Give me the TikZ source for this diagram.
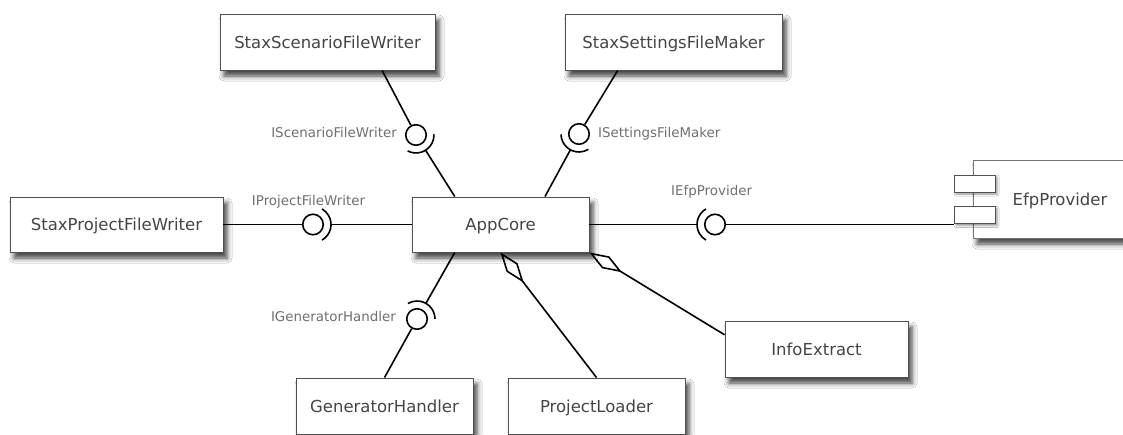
\documentclass[tikz,border=0pt]{standalone}
\usepackage{fontspec}
\setmainfont{DejaVu Sans}
\usetikzlibrary{calc,arrows.meta,shadows.blur}

\definecolor{boxline}{HTML}{505050}
\definecolor{boxtext}{HTML}{454545}
\definecolor{lbltext}{HTML}{707070}

\tikzset{
  softshadow/.style={blur shadow={shadow xshift=4pt, shadow yshift=-6pt,
      shadow blur radius=5pt, shadow opacity=75}},
  comp/.style={draw=boxline, line width=0.9pt, fill=white, text=boxtext,
      font=\fontsize{16.5}{20}\selectfont, inner sep=0pt,
      text height=12pt, text depth=0pt, minimum height=56pt, softshadow},
  port/.style={draw=boxline, line width=0.9pt, fill=white, inner sep=0pt,
      minimum width=41pt, minimum height=17pt,
      blur shadow={shadow xshift=2pt, shadow yshift=-2pt,
      shadow blur radius=2pt, shadow opacity=45}},
  ball/.style={circle, draw=black, line width=1.6pt, fill=white,
      minimum size=20.5pt, inner sep=0pt},
  conn/.style={draw=black, line width=1.6pt},
  iface/.style={text=lbltext, font=\fontsize{13.4}{16}\selectfont,
      inner sep=0pt, text height=9.8pt, text depth=0pt},
  aggr/.style={conn, {Diamond[open,length=38pt,width=14pt]}-},
}

% socket half of a lollipop: arc round ball #1, opening away from #2,
% plus the line from the arc to #2
\newcommand\ifsocket[2]{%
  \draw[conn] let \p1=($(#2)-(#1)$), \n1={atan2(\y1,\x1)} in
    ([shift={({\n1-60}:18pt)}]#1.center)
      arc[start angle=\n1-60, end angle=\n1+60, radius=18pt];
  \draw[conn] ($(#1)!18pt!(#2)$) -- (#2);}

\begin{document}
\begin{tikzpicture}[x=1pt,y=1pt]
\clip (0,0) rectangle (1123,-434);
\fill[white] (0,0) rectangle (1123,-434);

% components
\node[comp, minimum width=215pt] (ssfw) at (327.5,-42) {StaxScenarioFileWriter};
\node[comp, minimum width=217pt] (ssfm) at (673.5,-42) {StaxSettingsFileMaker};
\node[comp, minimum width=213pt, minimum height=55pt] (spfw) at (116.5,-224.5) {StaxProjectFileWriter};
\node[comp, minimum width=177pt, minimum height=55pt] (app) at (500.5,-224.5) {AppCore};
\node[comp, minimum width=174pt, minimum height=78pt, draw=boxline!80] (efp) at (1060,-199) {EfpProvider};
\node[port] (p1) at (974.5,-183.5) {};
\node[port] (p2) at (974.5,-215) {};
\node[comp, minimum width=177pt] (gh) at (384.5,-406) {GeneratorHandler};
\node[comp, minimum width=177pt] (pl) at (596.5,-406) {ProjectLoader};
\node[comp, minimum width=183pt] (ie) at (816.5,-349) {InfoExtract};

% attachment points on the box edges
\coordinate (ssfwB) at ($(ssfw.south west)!0.753!(ssfw.south east)$);
\coordinate (ssfmB) at ($(ssfm.south west)!0.244!(ssfm.south east)$);
\coordinate (appTL) at ($(app.north west)!0.243!(app.north east)$);
\coordinate (appTR) at ($(app.north west)!0.75!(app.north east)$);
\coordinate (appBL) at ($(app.south west)!0.243!(app.south east)$);
\coordinate (ieL) at ($(ie.north west)!0.25!(ie.south west)$);

% provided interfaces (balls)
\node[ball] (b1) at (416,-135) {};
\node[ball] (b2) at (579,-134) {};
\node[ball] (b3) at (313,-224.5) {};
\node[ball] (b4) at (715,-224.5) {};
\node[ball] (b5) at (417,-319) {};

\draw[conn] (ssfwB) -- (b1);
\draw[conn] (ssfmB) -- (b2);
\draw[conn] (spfw.east) -- (b3);
\draw[conn] (b4) -- (b4 -| p2.west);
\draw[conn] (gh.north) -- (b5);

% required interfaces (sockets) on the AppCore side
\ifsocket{b1}{appTL}
\ifsocket{b2}{appTR}
\ifsocket{b3}{app.west}
\ifsocket{b4}{app.east}
\ifsocket{b5}{appBL}

% aggregations
\draw[aggr] (app.south) -- (pl.north);
\draw[aggr] (app.south east) -- (ieL);

% interface names
\node[iface, anchor=east] (l1) at (397,-133) {IScenarioFileWriter};
\node[iface, anchor=west] (l2) at (598,-133) {ISettingsFileMaker};
\node[iface] (l3) at (308.5,-200.5) {IProjectFileWriter};
\node[iface, anchor=west] (l4) at (671,-191) {IEfpProvider};
\node[iface, anchor=east] (l5) at (396,-316.5) {IGeneratorHandler};
\end{tikzpicture}
\end{document}
